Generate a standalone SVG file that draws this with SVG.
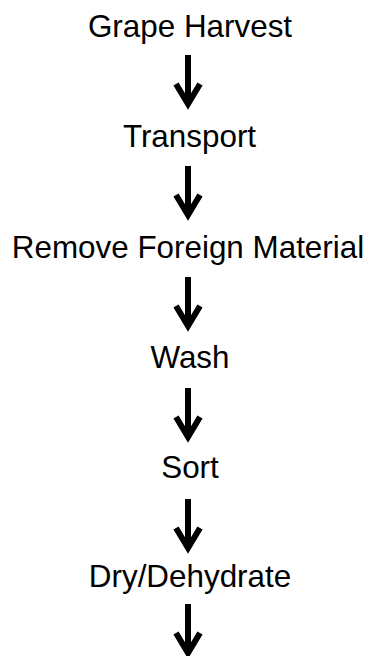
<svg xmlns="http://www.w3.org/2000/svg" width="371" height="656" viewBox="0 0 371 656">
<style>
.lbl{font-family:"Liberation Sans",Arial,sans-serif;font-size:31.4px;fill:#000;text-anchor:middle}
.arr{fill:none;stroke:#000;stroke-width:6;stroke-linejoin:miter;stroke-miterlimit:10}
</style>
<defs>
<g id="arrow">
<path class="arr" d="M0,0 V50"/>
<path class="arr" d="M-12,29 L0,49 L12,29"/>
</g>
</defs>
<rect width="371" height="656" fill="#fff"/>
<g id="n1"><text class="lbl" x="190" y="37">Grape Harvest</text></g>
<g id="n2"><text class="lbl" x="189.5" y="147">Transport</text></g>
<g id="n3"><text class="lbl" x="188" y="258">Remove Foreign Material</text></g>
<g id="n4"><text class="lbl" x="190" y="368">Wash</text></g>
<g id="n5"><text class="lbl" x="190" y="478">Sort</text></g>
<g id="n6"><text class="lbl" x="190" y="587">Dry/Dehydrate</text></g>
<g id="connectors">
<use href="#arrow" x="188" y="55"/>
<use href="#arrow" x="188" y="166"/>
<use href="#arrow" x="188" y="277"/>
<use href="#arrow" x="188" y="388"/>
<use href="#arrow" x="188" y="499"/>
<use href="#arrow" x="188" y="604"/>
</g>
</svg>
